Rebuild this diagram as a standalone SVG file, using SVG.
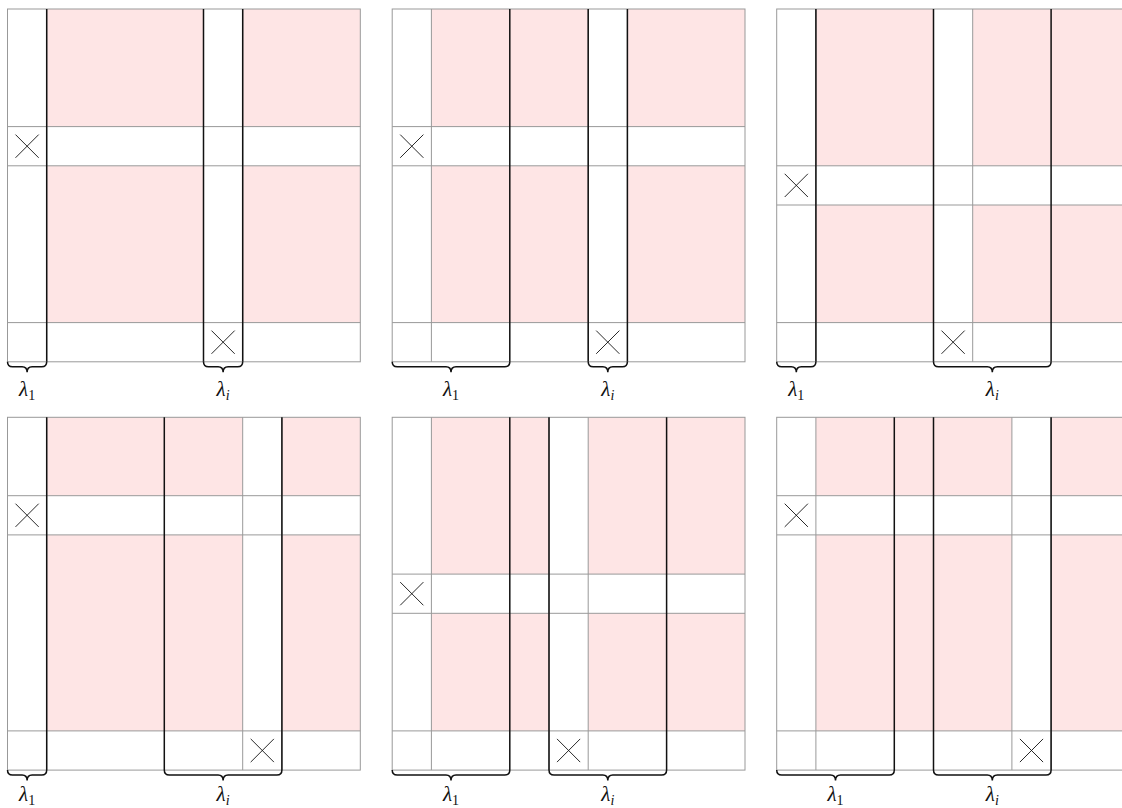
<svg xmlns="http://www.w3.org/2000/svg" width="1122" height="808" viewBox="0 0 1122 808">
<defs>
<style>
.pink{fill:#fee5e5;stroke:none}
.bg{fill:#ffffff;stroke:none}
.grid{stroke:#999999;stroke-width:1;fill:none}
.blk{stroke:#111111;stroke-width:1.5;fill:none}
.x{stroke:#111111;stroke-width:0.9;fill:none}
.lbl{font-family:"Liberation Serif","DejaVu Serif",serif;font-style:italic;font-size:21px;fill:#111111}
.sub{font-style:normal;font-size:14px}
.subi{font-style:italic;font-size:14px}
</style>
</defs>
<rect width="1122" height="808" fill="#ffffff"/>

<!-- Panel 1 -->
<g id="panel1" transform="translate(7.5,9)">
<rect class="bg" x="0" y="0" width="352.8" height="352.8"/>
<rect class="pink" x="39.2" y="0" width="156.8" height="117.6"/>
<rect class="pink" x="235.2" y="0" width="117.6" height="117.6"/>
<rect class="pink" x="39.2" y="156.8" width="156.8" height="156.8"/>
<rect class="pink" x="235.2" y="156.8" width="117.6" height="156.8"/>
<path class="grid" d="M0,117.6H352.8M0,156.8H352.8M0,313.6H352.8M39.2,0V352.8M196,0V352.8M235.2,0V352.8"/>
<rect class="grid" x="0" y="0" width="352.8" height="352.8"/>
<path class="x" d="M8,125.6L31.2,148.8M31.2,125.6L8,148.8"/>
<path class="x" d="M204,321.6L227.2,344.8M227.2,321.6L204,344.8"/>
<g id="conn1">
<path class="blk" d="M39.2,0V352.8M196,0V352.8M235.2,0V352.8"/>
<path class="blk" d="M0,352.8q0,5 5,5H14.6q5,0 5,5.5q0,-5.5 5,-5.5H34.2q5,0 5,-5"/>
<path class="blk" d="M196,352.8q0,5 5,5H210.6q5,0 5,5.5q0,-5.5 5,-5.5H230.2q5,0 5,-5"/>
</g>
<text class="lbl" x="19.6" y="387" text-anchor="middle">λ<tspan class="sub" dy="4">1</tspan></text>
<text class="lbl" x="215.6" y="387" text-anchor="middle">λ<tspan class="subi" dy="4">i</tspan></text>
</g>

<!-- Panel 2 -->
<g id="panel2" transform="translate(392.2,9)">
<rect class="bg" x="0" y="0" width="352.8" height="352.8"/>
<rect class="pink" x="39.2" y="0" width="156.8" height="117.6"/>
<rect class="pink" x="235.2" y="0" width="117.6" height="117.6"/>
<rect class="pink" x="39.2" y="156.8" width="156.8" height="156.8"/>
<rect class="pink" x="235.2" y="156.8" width="117.6" height="156.8"/>
<path class="grid" d="M0,117.6H352.8M0,156.8H352.8M0,313.6H352.8M39.2,0V352.8M196,0V352.8M235.2,0V352.8"/>
<rect class="grid" x="0" y="0" width="352.8" height="352.8"/>
<path class="x" d="M8,125.6L31.2,148.8M31.2,125.6L8,148.8"/>
<path class="x" d="M204,321.6L227.2,344.8M227.2,321.6L204,344.8"/>
<g id="conn2">
<path class="blk" d="M117.6,0V352.8M196,0V352.8M235.2,0V352.8"/>
<path class="blk" d="M0,352.8q0,5 5,5H53.8q5,0 5,5.5q0,-5.5 5,-5.5H112.6q5,0 5,-5"/>
<path class="blk" d="M196,352.8q0,5 5,5H210.6q5,0 5,5.5q0,-5.5 5,-5.5H230.2q5,0 5,-5"/>
</g>
<text class="lbl" x="58.8" y="387" text-anchor="middle">λ<tspan class="sub" dy="4">1</tspan></text>
<text class="lbl" x="215.6" y="387" text-anchor="middle">λ<tspan class="subi" dy="4">i</tspan></text>
</g>

<!-- Panel 3 -->
<g id="panel3" transform="translate(776.7,9)">
<rect class="bg" x="0" y="0" width="352.8" height="352.8"/>
<rect class="pink" x="39.2" y="0" width="117.6" height="156.8"/>
<rect class="pink" x="196" y="0" width="156.8" height="156.8"/>
<rect class="pink" x="39.2" y="196" width="117.6" height="117.6"/>
<rect class="pink" x="196" y="196" width="156.8" height="117.6"/>
<path class="grid" d="M0,156.8H352.8M0,196H352.8M0,313.6H352.8M39.2,0V352.8M156.8,0V352.8M196,0V352.8"/>
<rect class="grid" x="0" y="0" width="352.8" height="352.8"/>
<path class="x" d="M8,164.8L31.2,188M31.2,164.8L8,188"/>
<path class="x" d="M164.8,321.6L188,344.8M188,321.6L164.8,344.8"/>
<g id="conn3">
<path class="blk" d="M39.2,0V352.8M156.8,0V352.8M274.4,0V352.8"/>
<path class="blk" d="M0,352.8q0,5 5,5H14.6q5,0 5,5.5q0,-5.5 5,-5.5H34.2q5,0 5,-5"/>
<path class="blk" d="M156.8,352.8q0,5 5,5H210.6q5,0 5,5.5q0,-5.5 5,-5.5H269.4q5,0 5,-5"/>
</g>
<text class="lbl" x="19.6" y="387" text-anchor="middle">λ<tspan class="sub" dy="4">1</tspan></text>
<text class="lbl" x="215.6" y="387" text-anchor="middle">λ<tspan class="subi" dy="4">i</tspan></text>
</g>

<!-- Panel 4 -->
<g id="panel4" transform="translate(7.5,417.3)">
<rect class="bg" x="0" y="0" width="352.8" height="352.8"/>
<rect class="pink" x="39.2" y="0" width="196" height="78.4"/>
<rect class="pink" x="274.4" y="0" width="78.4" height="78.4"/>
<rect class="pink" x="39.2" y="117.6" width="196" height="196"/>
<rect class="pink" x="274.4" y="117.6" width="78.4" height="196"/>
<path class="grid" d="M0,78.4H352.8M0,117.6H352.8M0,313.6H352.8M39.2,0V352.8M235.2,0V352.8M274.4,0V352.8"/>
<rect class="grid" x="0" y="0" width="352.8" height="352.8"/>
<path class="x" d="M8,86.4L31.2,109.6M31.2,86.4L8,109.6"/>
<path class="x" d="M243.2,321.6L266.4,344.8M266.4,321.6L243.2,344.8"/>
<g id="conn4">
<path class="blk" d="M39.2,0V352.8M156.8,0V352.8M274.4,0V352.8"/>
<path class="blk" d="M0,352.8q0,5 5,5H14.6q5,0 5,5.5q0,-5.5 5,-5.5H34.2q5,0 5,-5"/>
<path class="blk" d="M156.8,352.8q0,5 5,5H210.6q5,0 5,5.5q0,-5.5 5,-5.5H269.4q5,0 5,-5"/>
</g>
<text class="lbl" x="19.6" y="384" text-anchor="middle">λ<tspan class="sub" dy="4">1</tspan></text>
<text class="lbl" x="215.6" y="384" text-anchor="middle">λ<tspan class="subi" dy="4">i</tspan></text>
</g>

<!-- Panel 5 -->
<g id="panel5" transform="translate(392.2,417.3)">
<rect class="bg" x="0" y="0" width="352.8" height="352.8"/>
<rect class="pink" x="39.2" y="0" width="117.6" height="156.8"/>
<rect class="pink" x="196" y="0" width="156.8" height="156.8"/>
<rect class="pink" x="39.2" y="196" width="117.6" height="117.6"/>
<rect class="pink" x="196" y="196" width="156.8" height="117.6"/>
<path class="grid" d="M0,156.8H352.8M0,196H352.8M0,313.6H352.8M39.2,0V352.8M156.8,0V352.8M196,0V352.8"/>
<rect class="grid" x="0" y="0" width="352.8" height="352.8"/>
<path class="x" d="M8,164.8L31.2,188M31.2,164.8L8,188"/>
<path class="x" d="M164.8,321.6L188,344.8M188,321.6L164.8,344.8"/>
<g id="conn5">
<path class="blk" d="M117.6,0V352.8M156.8,0V352.8M274.4,0V352.8"/>
<path class="blk" d="M0,352.8q0,5 5,5H53.8q5,0 5,5.5q0,-5.5 5,-5.5H112.6q5,0 5,-5"/>
<path class="blk" d="M156.8,352.8q0,5 5,5H210.6q5,0 5,5.5q0,-5.5 5,-5.5H269.4q5,0 5,-5"/>
</g>
<text class="lbl" x="58.8" y="384" text-anchor="middle">λ<tspan class="sub" dy="4">1</tspan></text>
<text class="lbl" x="215.6" y="384" text-anchor="middle">λ<tspan class="subi" dy="4">i</tspan></text>
</g>

<!-- Panel 6 -->
<g id="panel6" transform="translate(776.7,417.3)">
<rect class="bg" x="0" y="0" width="352.8" height="352.8"/>
<rect class="pink" x="39.2" y="0" width="196" height="78.4"/>
<rect class="pink" x="274.4" y="0" width="78.4" height="78.4"/>
<rect class="pink" x="39.2" y="117.6" width="196" height="196"/>
<rect class="pink" x="274.4" y="117.6" width="78.4" height="196"/>
<path class="grid" d="M0,78.4H352.8M0,117.6H352.8M0,313.6H352.8M39.2,0V352.8M235.2,0V352.8M274.4,0V352.8"/>
<rect class="grid" x="0" y="0" width="352.8" height="352.8"/>
<path class="x" d="M8,86.4L31.2,109.6M31.2,86.4L8,109.6"/>
<path class="x" d="M243.2,321.6L266.4,344.8M266.4,321.6L243.2,344.8"/>
<g id="conn6">
<path class="blk" d="M117.6,0V352.8M156.8,0V352.8M274.4,0V352.8"/>
<path class="blk" d="M0,352.8q0,5 5,5H53.8q5,0 5,5.5q0,-5.5 5,-5.5H112.6q5,0 5,-5"/>
<path class="blk" d="M156.8,352.8q0,5 5,5H210.6q5,0 5,5.5q0,-5.5 5,-5.5H269.4q5,0 5,-5"/>
</g>
<text class="lbl" x="58.8" y="384" text-anchor="middle">λ<tspan class="sub" dy="4">1</tspan></text>
<text class="lbl" x="215.6" y="384" text-anchor="middle">λ<tspan class="subi" dy="4">i</tspan></text>
</g>
</svg>
